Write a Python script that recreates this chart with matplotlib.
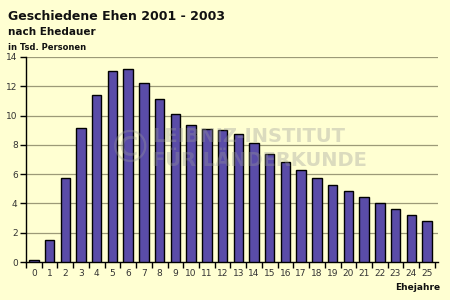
import numpy as np
import matplotlib.pyplot as plt

jahre = np.arange(0, 26)
werte = [0.15, 1.5, 5.75, 9.15, 11.4, 13.05, 13.2, 12.2, 11.1, 10.1, 9.35, 9.1,
         9.0, 8.72, 8.1, 7.37, 6.82, 6.27, 5.73, 5.25, 4.84, 4.43, 4.0, 3.6, 3.2, 2.8]
yticks = [0, 2, 4, 6, 8, 10, 12, 14]

bg = '#ffffd2'
fig = plt.figure(figsize=(4.5, 3), dpi=100, facecolor=bg)
ax = fig.add_axes([26/450, 1-262/300, (438-26)/450, (262-57)/300])
ax.set_facecolor(bg)

for y in yticks[1:]:
    ax.axhline(y, color='#9c9a78', lw=0.9, zorder=1)

ax.bar(jahre, werte, width=0.6, color='#5a4ca8', edgecolor='black', lw=1, zorder=3)

ax.set_xlim(-0.45, 25.7)
ax.set_ylim(0, 14)
ax.set_yticks(yticks)
ax.set_xticks(jahre)
ax.set_xticks(np.arange(-0.5, 26, 1), minor=True)
ax.tick_params(axis='x', which='major', length=0, labelsize=6.5, colors='#333333', pad=5)
ax.tick_params(axis='x', which='minor', length=4, width=1, color='black', direction='out')
ax.tick_params(axis='y', length=4, width=1, labelsize=6.5, colors='#333333', pad=2)
ax.tick_params(axis='y', color='black')
for s in ['top', 'right']:
    ax.spines[s].set_visible(False)
ax.spines['left'].set_linewidth(1)
ax.spines['bottom'].set_linewidth(1)

fig.text(8/450, 1-16/300, 'Geschiedene Ehen 2001 - 2003', fontsize=9, fontweight='bold',
         va='center', ha='left', color='#111111')
fig.text(8/450, 1-32/300, 'nach Ehedauer', fontsize=7.5, fontweight='bold',
         va='center', ha='left', color='#111111')
fig.text(8/450, 1-47/300, 'in Tsd. Personen', fontsize=6, fontweight='bold',
         va='center', ha='left', color='#111111')
fig.text(440/450, 1-288/300, 'Ehejahre', fontsize=6.5, fontweight='bold',
         va='center', ha='right', color='#111111')

# Wasserzeichen
wz = dict(fontsize=14, fontweight='bold', color='#999999', alpha=0.35,
          ha='left', va='center')
fig.text(108/450, 1-150/300, '\u00a9', fontsize=32, color='#999999', alpha=0.35,
         ha='left', va='center')
fig.text(152/450, 1-137/300, 'LEIBNIZ-INSTITUT', **wz)
fig.text(152/450, 1-161/300, 'FÜR LÄNDERKUNDE', **wz)

fig.savefig('out.png', dpi=100, facecolor=bg)
